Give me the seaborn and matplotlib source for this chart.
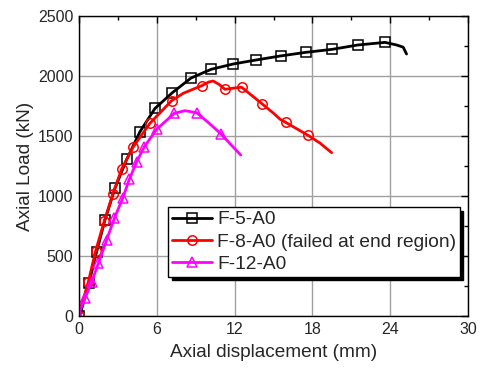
import matplotlib
matplotlib.use("Agg")
import matplotlib.pyplot as plt
import seaborn as sns
import pandas as pd
from matplotlib.ticker import MultipleLocator
from matplotlib.lines import Line2D

# ---- data ----
f5_x = [0, 0.1, 0.77, 1.36, 2.0, 2.78, 3.68, 4.7, 5.86, 7.2, 8.64, 10.2, 11.9,
        13.65, 15.55, 17.5, 19.53, 21.5, 23.6, 24.5, 25.0, 25.26]
f5_y = [0, 20, 275, 536, 800, 1067, 1306, 1536, 1730, 1861, 1983, 2056, 2100,
        2133, 2167, 2197, 2222, 2258, 2280, 2258, 2240, 2183]
f5_marks = [0, 2, 3, 4, 5, 6, 7, 8, 9, 10, 11, 12, 13, 14, 15, 16, 17, 18]

f8_x = [0, 0.05, 0.72, 1.28, 1.95, 2.6, 3.29, 4.19, 5.47, 7.14, 8.04, 9.46, 10.0,
        10.35, 10.8, 11.26, 12.0, 12.54, 13.3, 14.13, 15.0, 15.5, 15.93, 16.8,
        17.63, 18.6, 19.48]
f8_y = [0, 40, 286, 542, 792, 1014, 1225, 1411, 1606, 1794, 1856, 1919, 1950,
        1958, 1930, 1889, 1900, 1906, 1840, 1767, 1690, 1640, 1614, 1560,
        1508, 1440, 1361]
f8_marks = [0, 2, 3, 4, 5, 6, 7, 8, 9, 11, 15, 17, 19, 22, 24]

f12_x = [0, 0.08, 0.46, 0.98, 1.49, 2.13, 2.72, 3.37, 3.88, 4.45, 5.04, 5.99,
         7.35, 8.17, 9.07, 10.0, 10.95, 11.7, 12.47]
f12_y = [0, 50, 147, 286, 439, 633, 814, 981, 1139, 1286, 1411, 1556,
         1689, 1711, 1694, 1610, 1517, 1430, 1342]
f12_marks = [0, 2, 3, 4, 5, 6, 7, 8, 9, 10, 11, 12, 14, 16]

labels = ["F-5-A0", "F-8-A0 (failed at end region)", "F-12-A0"]
colors = ["black", "red", "magenta"]
markers = ["s", "o", "^"]

x_ticks = [0, 6, 12, 18, 24, 30]
y_ticks = [0, 500, 1000, 1500, 2000, 2500]

sns.set_theme(style="white")
plt.rcParams["font.family"] = ["Liberation Sans", "DejaVu Sans"]

fig = plt.figure(figsize=(4.8, 3.71), dpi=100)
ax = fig.add_axes([0.1646, 0.148, 0.8104, 0.809])

mstyle = dict(markersize=6.8, markerfacecolor="none", markeredgewidth=1.1)
series = [(f5_x, f5_y, f5_marks), (f8_x, f8_y, f8_marks), (f12_x, f12_y, f12_marks)]
handles = []
for (xs, ys, mk), lab, col, m in zip(series, labels, colors, markers):
    df = pd.DataFrame({"x": xs, "y": ys})
    sns.lineplot(data=df, x="x", y="y", sort=False, estimator=None, ax=ax,
                 color=col, linewidth=2, marker=m, markeredgecolor=col,
                 markevery=mk, legend=False, **mstyle)
    handles.append(Line2D([], [], color=col, linewidth=2, marker=m,
                          markeredgecolor=col, label=lab, **mstyle))

ax.set_xlim(0, 30)
ax.set_ylim(0, 2500)
ax.set_xticks(x_ticks)
ax.set_yticks(y_ticks)
ax.xaxis.set_minor_locator(MultipleLocator(3))
ax.yaxis.set_minor_locator(MultipleLocator(250))
ax.tick_params(which="both", direction="in", top=True, right=True, color="black")
ax.tick_params(which="major", length=5, width=1, labelsize=11.5, pad=4)
ax.tick_params(which="minor", length=3, width=1)
ax.grid(True, which="major", color="#a0a0a0", linewidth=1)
ax.set_axisbelow(True)
for s in ax.spines.values():
    s.set_color("black")
    s.set_linewidth(1)
ax.set_xlabel("Axial displacement (mm)", fontsize=13.7, labelpad=5)
ax.set_ylabel("Axial Load (kN)", fontsize=13.7, labelpad=3)

leg = ax.legend(handles=handles, loc="upper left", bbox_to_anchor=(0.229, 0.363),
                fontsize=13.8, frameon=True, fancybox=False, edgecolor="black",
                framealpha=1,
                shadow={"color": "black", "alpha": 1, "ox": 2.5, "oy": -2.5},
                handlelength=2.1, numpoints=1, borderpad=0.2, labelspacing=0.25,
                handletextpad=0.25, borderaxespad=0)
leg.get_frame().set_linewidth(1)

fig.savefig("out.png", dpi=100)
